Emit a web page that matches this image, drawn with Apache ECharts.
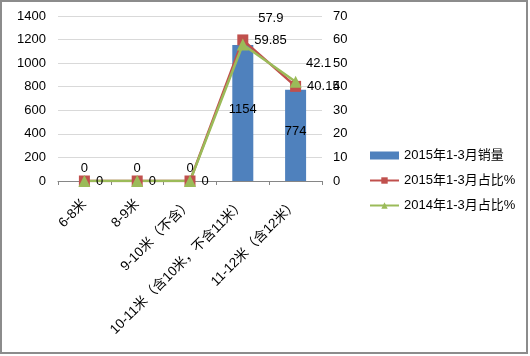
<!DOCTYPE html>
<html><head><meta charset="utf-8">
<script src="https://cdn.jsdelivr.net/npm/echarts@6/dist/echarts.min.js"></script>
<style>html,body{margin:0;padding:0;background:#fff}#c{width:530px;height:356px}</style>
</head><body><div id="c"></div>
<script>
var categories = ['6-8米','8-9米','9-10米（不含）','10-11米（含10米，不含11米）','11-12米（含12米）'];
var sales2015 = [0,0,0,1154,774];
var share2015 = [0,0,0,59.85,40.15];
var share2014 = [0,0,0,57.9,42.1];
var leftTicks = {min:0,max:1400,interval:200};
var rightTicks = {min:0,max:70,interval:10};

var font = 'Liberation Sans, "Noto Sans CJK SC", sans-serif';
var chart = echarts.init(document.getElementById('c'), null, {renderer:'canvas'});
chart.setOption({
  animation:false,
  backgroundColor:'#fff',
  graphic:[{type:'rect',shape:{x:1,y:1,width:526,height:352},style:{fill:'none',stroke:'#8c8c8c',lineWidth:2},silent:true}],
  grid:{left:58,right:208,top:16,bottom:175},
  legend:{
    orient:'vertical',left:364,top:144,itemGap:12,itemWidth:29,itemHeight:8,
    textStyle:{fontFamily:font,fontSize:13,color:'#000'},
    data:[
      {name:'2015年1-3月销量',icon:'rect'},
      {name:'2015年1-3月占比%'},
      {name:'2014年1-3月占比%'}
    ]
  },
  xAxis:{
    type:'category',data:categories,
    axisLine:{lineStyle:{color:'#868686'}},
    axisTick:{show:true,alignWithLabel:false,length:4,lineStyle:{color:'#868686'}},
    axisLabel:{rotate:45,interval:0,margin:21,fontFamily:font,fontSize:13.5,color:'#000'}
  },
  yAxis:[
    {type:'value',min:leftTicks.min,max:leftTicks.max,interval:leftTicks.interval,
     axisLine:{show:false},axisTick:{show:false},
     axisLabel:{fontFamily:font,fontSize:13,color:'#000',margin:12,formatter:function(v){return String(v);}},
     splitLine:{lineStyle:{color:'#d9d9d9'}}},
    {type:'value',min:rightTicks.min,max:rightTicks.max,interval:rightTicks.interval,
     axisLine:{show:false},axisTick:{show:false},
     axisLabel:{fontFamily:font,fontSize:13,color:'#000',margin:11},
     splitLine:{show:false}}
  ],
  series:[
    {name:'2015年1-3月销量',type:'bar',yAxisIndex:0,barWidth:21,
     itemStyle:{color:'#4f81bd'},
     data:sales2015.map(function(v){
       return {value:v,label:{show:true,position:v===0?'top':'inside',distance:6,offset:v===0?[0,0]:[0,-4],
         fontFamily:font,fontSize:13,color:'#000'}};
     })},
    {name:'2015年1-3月占比%',type:'line',yAxisIndex:1,
     symbol:'rect',symbolSize:11,
     lineStyle:{color:'#c0504d',width:2.5},itemStyle:{color:'#c0504d'},
     label:{show:true,position:'right',distance:6,fontFamily:font,fontSize:13,color:'#000'},
     data:share2015},
    {name:'2014年1-3月占比%',type:'line',yAxisIndex:1,
     symbol:'triangle',symbolSize:12,
     lineStyle:{color:'#9bbb59',width:2.5},itemStyle:{color:'#9bbb59'},
     data:share2014.map(function(v,i){
       return {value:v,label:{show:v!==0,position:'top',distance:0,offset:i===3?[28,-14]:[23,-6],
         fontFamily:font,fontSize:13,color:'#000'}};
     })}
  ]
});
</script></body></html>
